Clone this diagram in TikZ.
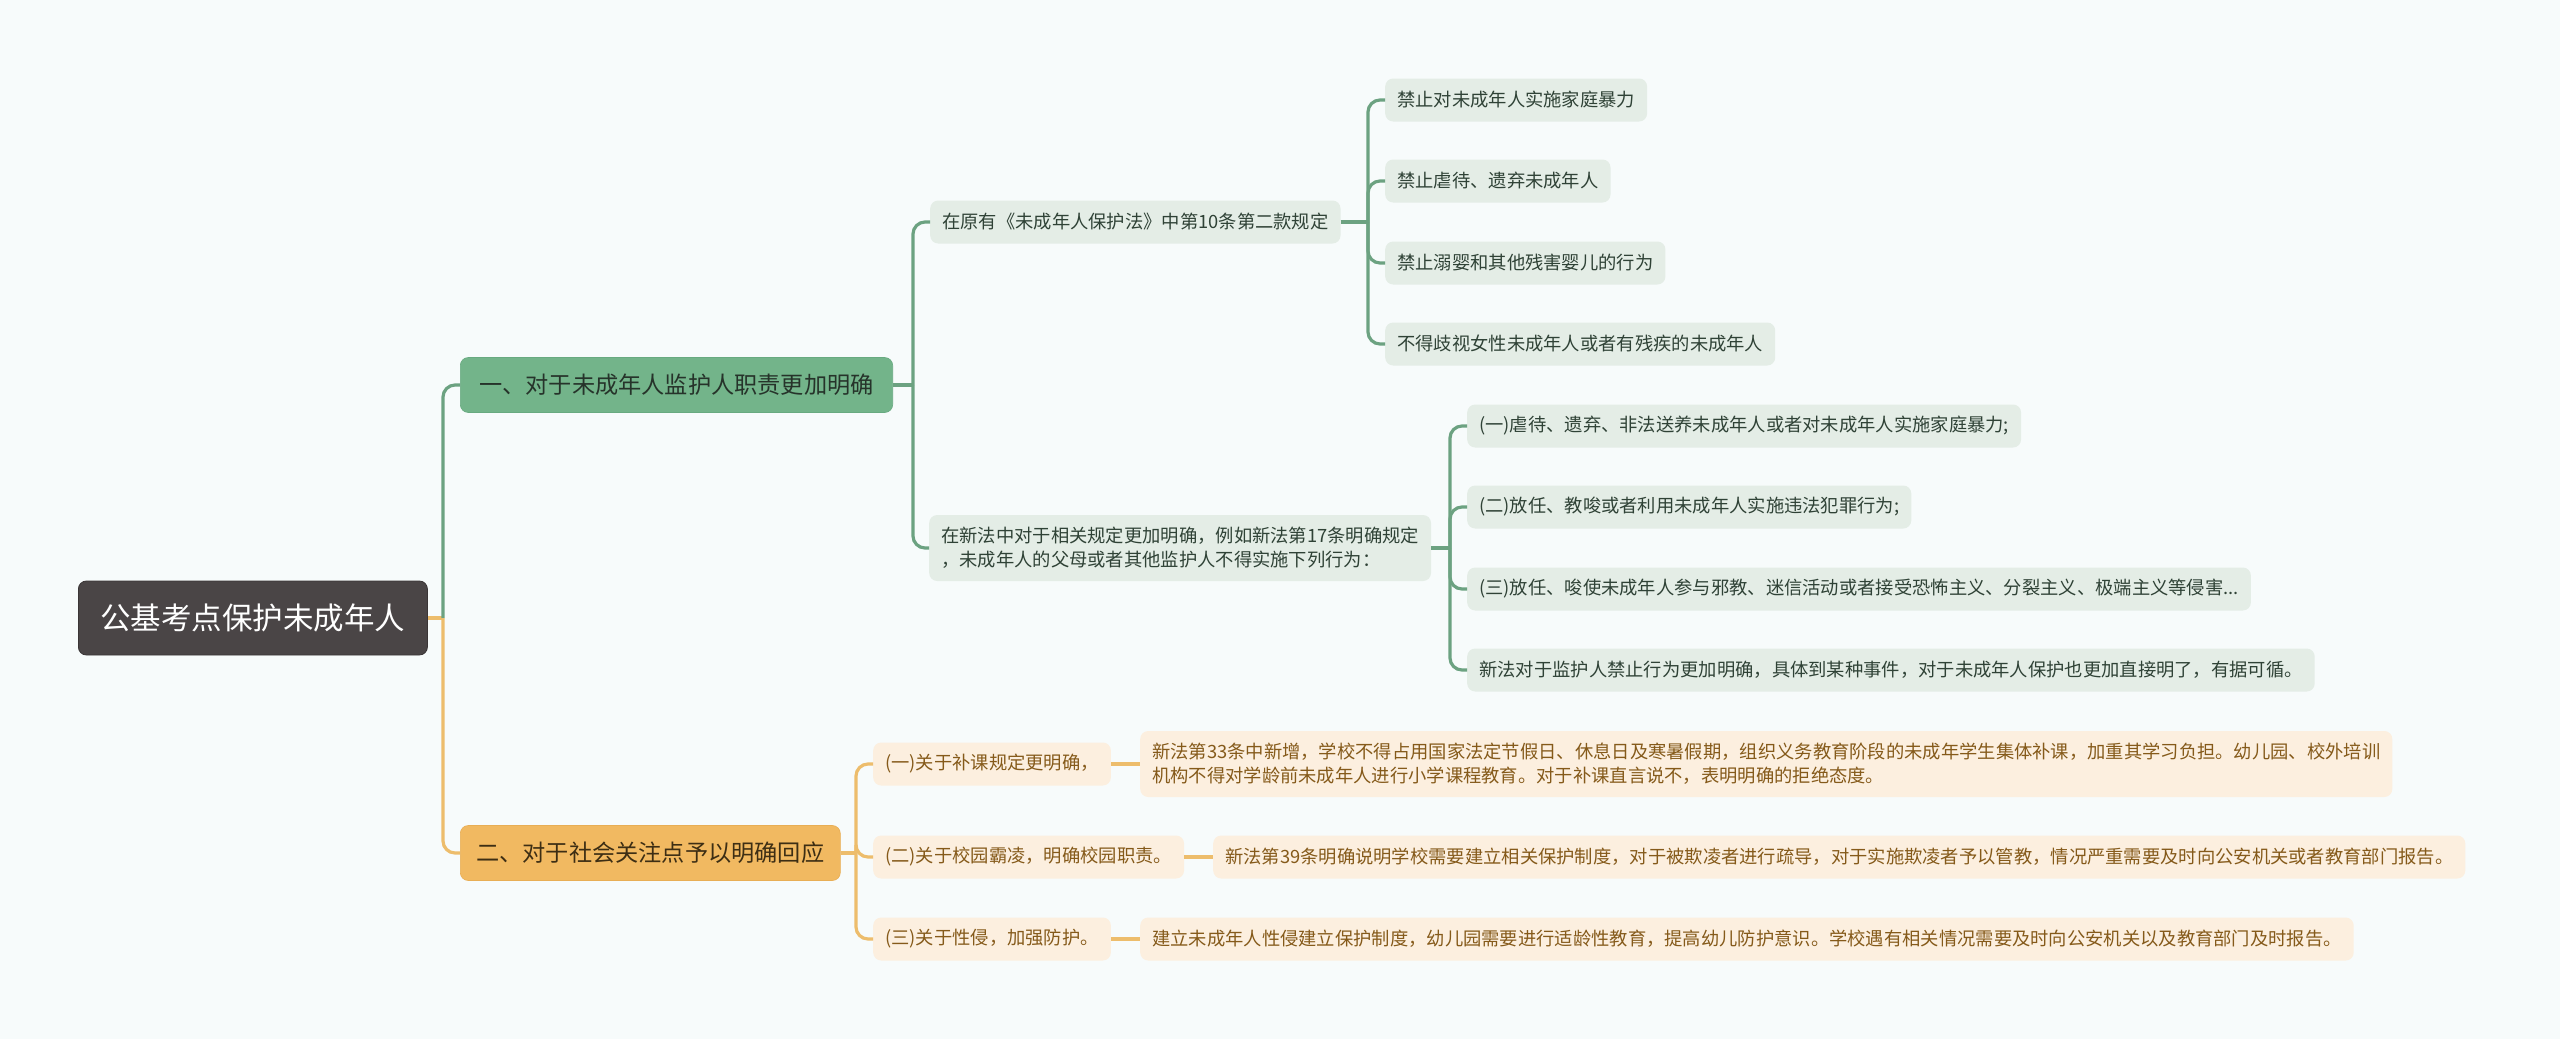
\documentclass[tikz,border=0pt]{standalone}
\usepackage{fontspec}
\newfontfamily\cjk{Noto Sans CJK SC}
\definecolor{bg}{HTML}{F7FBFB}
\definecolor{rootfill}{HTML}{4A4546}
\definecolor{rootdraw}{HTML}{3A3536}
\definecolor{gmain}{HTML}{73B48A}
\definecolor{gmaindraw}{HTML}{68AA80}
\definecolor{gmaintext}{HTML}{26332A}
\definecolor{gfill}{HTML}{E4EDE6}
\definecolor{gtext}{HTML}{2F4236}
\definecolor{gline}{HTML}{6CA281}
\definecolor{omain}{HTML}{F1B961}
\definecolor{omaindraw}{HTML}{E8AE55}
\definecolor{omaintext}{HTML}{3D2E14}
\definecolor{ofill}{HTML}{FCEFDF}
\definecolor{otext}{HTML}{855A1A}
\definecolor{oline}{HTML}{EDBD6C}
\begin{document}
\begin{tikzpicture}[x=1pt,y=-1pt,
  base/.style={rounded corners=8pt, anchor=west, inner ysep=0pt, align=left},
  rootbox/.style={base, fill=rootfill, draw=rootdraw, line width=0.8pt, text=white, minimum height=74pt, inner xsep=22pt, font=\cjk\fontsize{30.5}{36}\selectfont},
  gmainbox/.style={base, fill=gmain, draw=gmaindraw, line width=0.6pt, text=gmaintext, minimum height=55pt, inner xsep=19pt, font=\cjk\fontsize{23.2}{28}\selectfont},
  omainbox/.style={base, fill=omain, draw=omaindraw, line width=0.6pt, text=omaintext, minimum height=55pt, inner xsep=16pt, font=\cjk\fontsize{23.2}{28}\selectfont},
  gleaf/.style={base, fill=gfill, text=gtext, minimum height=43pt, inner xsep=12pt, font=\cjk\fontsize{18.3}{24}\selectfont},
  oleaf/.style={base, fill=ofill, text=otext, minimum height=43pt, inner xsep=12pt, font=\cjk\fontsize{18.3}{24}\selectfont},
  gconn/.style={draw=gline, line width=3.2pt, rounded corners=12pt},
  oconn/.style={draw=oline, line width=3.2pt, rounded corners=12pt}
]
\useasboundingbox (0,0) rectangle (2560,1039);
\fill[bg] (0,0) rectangle (2560,1039);

% nodes
\node[rootbox] (root) at (78,618) {公基考点保护未成年人};
\node[gmainbox] (g1) at (460,385) {一、对于未成年人监护人职责更加明确};
\node[omainbox] (o1) at (460,853) {二、对于社会关注点予以明确回应};

\node[gleaf] (ga) at (930,222) {在原有《未成年人保护法》中第10条第二款规定};
\node[gleaf, minimum height=66pt] (gb) at (929,548) {在新法中对于相关规定更加明确，例如新法第17条明确规定\\，未成年人的父母或者其他监护人不得实施下列行为：};

\node[gleaf] (a1) at (1385,100) {禁止对未成年人实施家庭暴力};
\node[gleaf] (a2) at (1385,181) {禁止虐待、遗弃未成年人};
\node[gleaf] (a3) at (1385,263) {禁止溺婴和其他残害婴儿的行为};
\node[gleaf] (a4) at (1385,344) {不得歧视女性未成年人或者有残疾的未成年人};

\node[gleaf] (b1) at (1467,426) {(一)虐待、遗弃、非法送养未成年人或者对未成年人实施家庭暴力;};
\node[gleaf] (b2) at (1467,507) {(二)放任、教唆或者利用未成年人实施违法犯罪行为;};
\node[gleaf] (b3) at (1467,589) {(三)放任、唆使未成年人参与邪教、迷信活动或者接受恐怖主义、分裂主义、极端主义等侵害...};
\node[gleaf] (b4) at (1467,670) {新法对于监护人禁止行为更加明确，具体到某种事件，对于未成年人保护也更加直接明了，有据可循。};

\node[oleaf] (s1) at (873,764) {(一)关于补课规定更明确，};
\node[oleaf] (s2) at (873,857) {(二)关于校园霸凌，明确校园职责。};
\node[oleaf] (s3) at (873,939) {(三)关于性侵，加强防护。};

\node[oleaf, minimum height=66pt] (p1) at (1140,764) {新法第33条中新增，学校不得占用国家法定节假日、休息日及寒暑假期，组织义务教育阶段的未成年学生集体补课，加重其学习负担。幼儿园、校外培训\\机构不得对学龄前未成年人进行小学课程教育。对于补课直言说不，表明明确的拒绝态度。};
\node[oleaf] (p2) at (1213,857) {新法第39条明确说明学校需要建立相关保护制度，对于被欺凌者进行疏导，对于实施欺凌者予以管教，情况严重需要及时向公安机关或者教育部门报告。};
\node[oleaf] (p3) at (1140,939) {建立未成年人性侵建立保护制度，幼儿园需要进行适龄性教育，提高幼儿防护意识。学校遇有相关情况需要及时向公安机关以及教育部门及时报告。};

% junction points
\coordinate (jr) at (443,618);
\coordinate (jg) at (913,385);
\coordinate (ja) at (1368,222);
\coordinate (jb) at (1450,548);
\coordinate (jo) at (856,853);

% connectors
\draw[oconn] (root.east) -- (jr);
\draw[gconn] (jr) |- (g1.west);
\draw[oconn] (jr) |- (o1.west);

\draw[gconn] (g1.east) -- (jg);
\draw[gconn] (jg) |- (ga.west);
\draw[gconn] (jg) |- (gb.west);

\draw[gconn] (ga.east) -- (ja);
\foreach \n in {a1,a2,a3,a4} \draw[gconn] (ja) |- (\n.west);

\draw[gconn] (gb.east) -- (jb);
\foreach \n in {b1,b2,b3,b4} \draw[gconn] (jb) |- (\n.west);

\draw[oconn] (o1.east) -- (jo);
\foreach \n in {s1,s2,s3} \draw[oconn] (jo) |- (\n.west);

\draw[oconn] (s1.east) -- (p1.west);
\draw[oconn] (s2.east) -- (p2.west);
\draw[oconn] (s3.east) -- (p3.west);
\end{tikzpicture}
\end{document}
